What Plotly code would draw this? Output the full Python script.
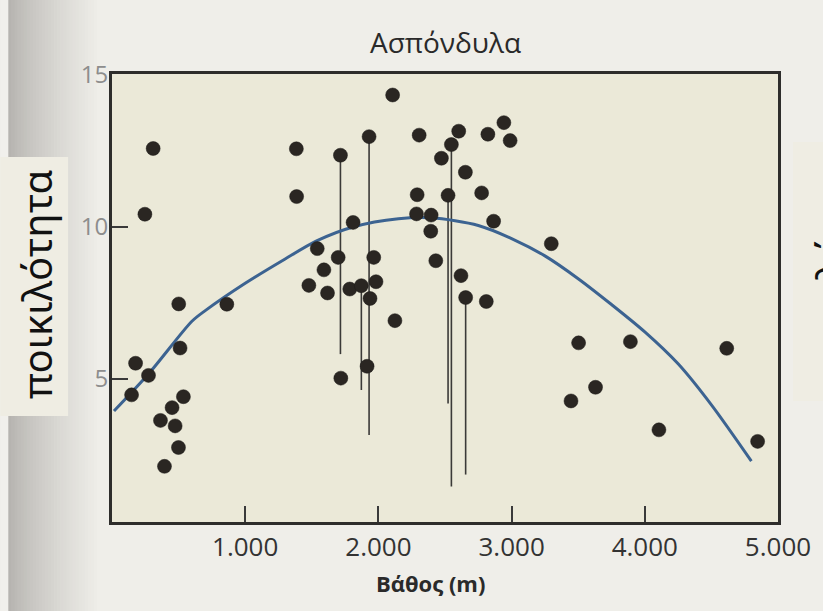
import plotly.graph_objects as go

# ---- data ----
depth = [309, 247, 1384, 1386, 1715, 1930, 2107, 1810, 1541, 1698, 1965, 1591, 1478, 1618,
         1785, 1872, 1982, 1937, 501, 862, 2306, 2603, 2548, 2473, 2822, 2942, 2989, 2653,
         2291, 2523, 2775, 2286, 2396, 2393, 2865, 3298, 2431, 2620, 2655, 2810, 511, 177,
         274, 147, 536, 451, 364, 474, 499, 394, 1718, 1915, 2124, 3503, 3892, 4615, 3446,
         3630, 4106, 4847]
variety = [12.58, 10.42, 12.57, 11.0, 12.36, 12.97, 14.34, 10.15, 9.29, 9.0, 9.0, 8.59, 8.08, 7.83,
           7.96, 8.07, 8.2, 7.65, 7.47, 7.46, 13.02, 13.15, 12.71, 12.26, 13.05, 13.43, 12.84, 11.80,
           11.06, 11.04, 11.12, 10.43, 10.39, 9.86, 10.19, 9.45, 8.89, 8.40, 7.68, 7.55, 6.02, 5.52,
           5.12, 4.48, 4.42, 4.06, 3.64, 3.46, 2.75, 2.13, 5.03, 5.42, 6.92, 6.19, 6.23, 6.01, 4.28,
           4.73, 3.33, 2.95]

# downward range lines
range_x = [1715, 1872, 1930, 2523, 2548, 2655]
range_top = [12.36, 8.07, 12.97, 11.04, 12.71, 7.68]
range_bottom = [5.82, 4.64, 3.16, 4.20, 1.47, 1.86]

# fitted curve
curve_x = [15, 280, 600, 700, 1000, 1300, 1540, 1810, 2150, 2400, 2750, 3000, 3250, 3500,
           3750, 4000, 4250, 4500, 4800]
curve_y = [3.95, 5.2, 6.9, 7.25, 8.15, 8.95, 9.55, 10.0, 10.27, 10.3, 10.05, 9.62, 9.05, 8.3,
           7.45, 6.55, 5.5, 4.15, 2.3]

x_ticks = [1000, 2000, 3000, 4000, 5000]
x_tick_labels = ["1.000", "2.000", "3.000", "4.000", "5.000"]
y_ticks = [5, 10, 15]
y_tick_labels = ["5", "10", "15"]

title_text = "Ασπόνδυλα"
x_title = "Βάθος (m)"
y_title = "ποικιλότητα"

# ---- layout geometry ----
W, H = 823, 611
L, R, T, B = 112, 43, 74, 89
PW, PH = W - L - R, H - T - B


def px(xp):
    return (xp - L) / PW


def py(yp):
    return 1 - (yp - T) / PH


fig = go.Figure()

lx, ly = [], []
for x, t, b in zip(range_x, range_top, range_bottom):
    lx += [x, x, None]
    ly += [t, b, None]
fig.add_trace(go.Scatter(x=lx, y=ly, mode="lines",
                         line=dict(color="#3b3a38", width=1.6),
                         hoverinfo="skip", showlegend=False))

fig.add_trace(go.Scatter(x=curve_x, y=curve_y, mode="lines",
                         line=dict(color="#3c6391", width=3, shape="spline", smoothing=0.8),
                         showlegend=False))

fig.add_trace(go.Scatter(x=depth, y=variety, mode="markers",
                         marker=dict(color="#2a2622", size=14,
                                     line=dict(color="#1c1a18", width=0.5)),
                         showlegend=False))

shapes = []
# scanned shadow on the left edge (smooth gradient of thin strips)
shapes.append(dict(type="rect", xref="paper", yref="paper",
                   x0=px(0), x1=px(8), y0=py(H), y1=py(0),
                   fillcolor="#f1f0ec", line=dict(width=0), layer="below"))
c0 = (0xb6, 0xb4, 0xb0)
c1 = (0xef, 0xee, 0xe9)
n = 30
x_start, x_end = 8, 100
for i in range(n):
    f = (i / (n - 1)) ** 0.8
    c = tuple(int(a + (b - a) * f) for a, b in zip(c0, c1))
    xa = x_start + (x_end - x_start) * i / n
    xb = x_start + (x_end - x_start) * (i + 1) / n + 0.6
    shapes.append(dict(type="rect", xref="paper", yref="paper",
                       x0=px(xa), x1=px(xb), y0=py(H), y1=py(0),
                       fillcolor="rgb(%d,%d,%d)" % c, line=dict(width=0), layer="below"))
# pasted label boxes
shapes.append(dict(type="rect", xref="paper", yref="paper",
                   x0=px(0), x1=px(68), y0=py(416), y1=py(157),
                   fillcolor="#efede3", line=dict(width=0), layer="above"))
shapes.append(dict(type="rect", xref="paper", yref="paper",
                   x0=px(795), x1=px(830), y0=py(401), y1=py(142),
                   fillcolor="#efede3", line=dict(width=0), layer="above"))

annotations = [
    dict(text=title_text, x=px(446), y=py(42), xref="paper", yref="paper",
         xanchor="center", yanchor="middle",
         showarrow=False, font=dict(family="Open Sans", size=28, color="#2a2a2a")),
    dict(text=f"<b>{x_title}</b>", x=px(431), y=py(583), xref="paper", yref="paper",
         xanchor="center", yanchor="middle",
         showarrow=False, font=dict(family="Open Sans", size=22, color="#2a2a2a")),
    dict(text=y_title, x=px(36), y=py(284), xref="paper", yref="paper",
         xanchor="center", yanchor="middle", textangle=-90, showarrow=False,
         font=dict(family="Noto Sans", size=40, color="#111111")),
    dict(text=y_title, x=px(803), y=py(262), xref="paper", yref="paper",
         xanchor="left", yanchor="middle", textangle=-90, showarrow=False,
         font=dict(family="Noto Sans", size=40, color="#111111")),
]

fig.update_layout(
    width=W, height=H,
    margin=dict(l=L, r=R, t=T, b=B, pad=0),
    paper_bgcolor="#efeee9",
    plot_bgcolor="#ebe9d8",
    shapes=shapes,
    annotations=annotations,
    showlegend=False,
)

fig.update_xaxes(range=[0, 5000], tickvals=x_ticks, ticktext=x_tick_labels,
                 ticks="inside", ticklen=16, tickwidth=2, tickcolor="#3a3a3a",
                 showline=True, linewidth=3, linecolor="#2e2d2b", mirror=True,
                 showgrid=False, zeroline=False,
                 tickfont=dict(family="Open Sans", size=26, color="#333333"))
fig.update_yaxes(range=[0.3, 15.03], tickvals=y_ticks, ticktext=y_tick_labels,
                 ticks="inside", ticklen=16, tickwidth=2, tickcolor="#3a3a3a",
                 showline=True, linewidth=3, linecolor="#2e2d2b", mirror=True,
                 showgrid=False, zeroline=False, ticklabelstandoff=-4,
                 tickfont=dict(family="Open Sans", size=24, color="#8d8d8d"))

fig.write_html("out.html")
